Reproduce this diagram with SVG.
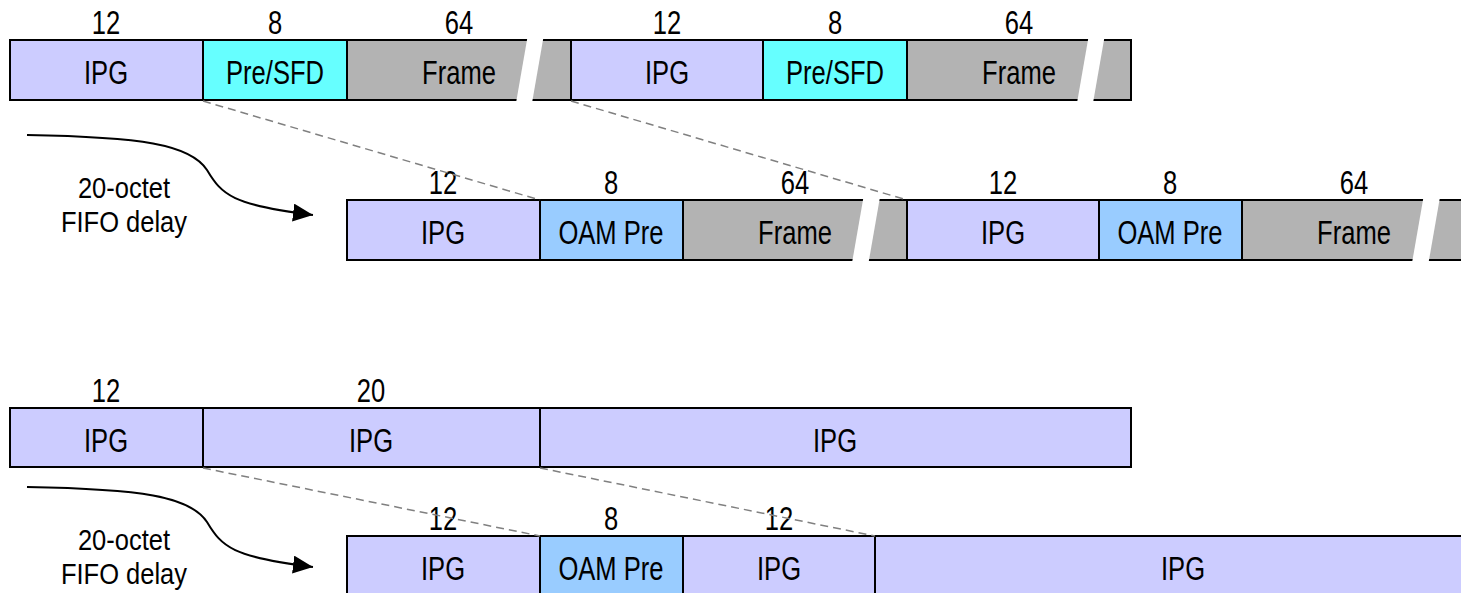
<svg xmlns="http://www.w3.org/2000/svg" width="1461" height="593" viewBox="0 0 1461 593">
  <defs>
    <style>
      text { font-family: "Liberation Sans", Arial, sans-serif; font-size: 33px; fill: #000; text-anchor: middle; }
      text.note { font-size: 30px; }
      .seg { stroke: #000; stroke-width: 2; }
      .ipg { fill: #CCCCFF; }
      .pre { fill: #66FFFF; }
      .oam { fill: #99CCFF; }
      .frm { fill: #B3B3B3; }
      .gap { fill: #FFFFFF; stroke: none; }
      .map { stroke: #808080; stroke-width: 1.5; stroke-dasharray: 8 5; fill: none; }
      .flow { stroke: #000; stroke-width: 2; fill: none; }
    </style>
    <marker id="arrow" markerUnits="userSpaceOnUse" markerWidth="22" markerHeight="18" refX="20" refY="9" orient="auto">
      <path d="M0,0 L20,9 L0,18 Z" fill="#000"/>
    </marker>
  </defs>
  <rect width="1461" height="593" fill="#FFFFFF"/>

  <!-- Row 1: incoming stream (text is narrowed with a horizontal scale) -->
  <g id="r1-ipg1"><rect class="seg ipg" x="10" y="40" width="193" height="60"/><text transform="translate(106,34) scale(0.775,1)">12</text><text transform="translate(106,84) scale(0.775,1)">IPG</text></g>
  <g id="r1-pre1"><rect class="seg pre" x="203" y="40" width="144" height="60"/><text transform="translate(275,34) scale(0.775,1)">8</text><text transform="translate(275,84) scale(0.775,1)">Pre/SFD</text></g>
  <g id="r1-frame1"><rect class="seg frm" x="347" y="40" width="224" height="60"/><text transform="translate(459,34) scale(0.775,1)">64</text><text transform="translate(459,84) scale(0.775,1)">Frame</text></g>
  <g id="r1-ipg2"><rect class="seg ipg" x="571" y="40" width="192" height="60"/><text transform="translate(667,34) scale(0.775,1)">12</text><text transform="translate(667,84) scale(0.775,1)">IPG</text></g>
  <g id="r1-pre2"><rect class="seg pre" x="763" y="40" width="144" height="60"/><text transform="translate(835,34) scale(0.775,1)">8</text><text transform="translate(835,84) scale(0.775,1)">Pre/SFD</text></g>
  <g id="r1-frame2"><rect class="seg frm" x="907" y="40" width="224" height="60"/><text transform="translate(1019,34) scale(0.775,1)">64</text><text transform="translate(1019,84) scale(0.775,1)">Frame</text></g>
  <!-- break marks in the frames -->
  <polygon class="gap" points="527.5,37 543.5,37 532,103 516,103"/>
  <polygon class="gap" points="1088.5,37 1104.5,37 1093,103 1077,103"/>

  <!-- Row 2: delayed stream with OAM preamble -->
  <g id="r2-ipg1"><rect class="seg ipg" x="347" y="200" width="193" height="60"/><text transform="translate(443,194) scale(0.775,1)">12</text><text transform="translate(443,244) scale(0.775,1)">IPG</text></g>
  <g id="r2-oam1"><rect class="seg oam" x="540" y="200" width="143" height="60"/><text transform="translate(611,194) scale(0.775,1)">8</text><text transform="translate(611,244) scale(0.775,1)">OAM Pre</text></g>
  <g id="r2-frame1"><rect class="seg frm" x="683" y="200" width="224" height="60"/><text transform="translate(795,194) scale(0.775,1)">64</text><text transform="translate(795,244) scale(0.775,1)">Frame</text></g>
  <g id="r2-ipg2"><rect class="seg ipg" x="907" y="200" width="192" height="60"/><text transform="translate(1003,194) scale(0.775,1)">12</text><text transform="translate(1003,244) scale(0.775,1)">IPG</text></g>
  <g id="r2-oam2"><rect class="seg oam" x="1099" y="200" width="143" height="60"/><text transform="translate(1170,194) scale(0.775,1)">8</text><text transform="translate(1170,244) scale(0.775,1)">OAM Pre</text></g>
  <g id="r2-frame2"><rect class="seg frm" x="1242" y="200" width="240" height="60"/><text transform="translate(1354,194) scale(0.775,1)">64</text><text transform="translate(1354,244) scale(0.775,1)">Frame</text></g>
  <polygon class="gap" points="863.5,197 880,197 868.5,263 852,263"/>
  <polygon class="gap" points="1423.5,197 1440,197 1428.5,263 1412,263"/>

  <!-- Row 3: idle stream -->
  <g id="r3-ipg1"><rect class="seg ipg" x="10" y="408" width="193" height="59"/><text transform="translate(106,402) scale(0.775,1)">12</text><text transform="translate(106,452) scale(0.775,1)">IPG</text></g>
  <g id="r3-ipg2"><rect class="seg ipg" x="203" y="408" width="337" height="59"/><text transform="translate(371,402) scale(0.775,1)">20</text><text transform="translate(371,452) scale(0.775,1)">IPG</text></g>
  <g id="r3-ipg3"><rect class="seg ipg" x="540" y="408" width="591" height="59"/><text transform="translate(835,452) scale(0.775,1)">IPG</text></g>

  <!-- Row 4: delayed idle stream with OAM preamble -->
  <g id="r4-ipg1"><rect class="seg ipg" x="347" y="536" width="193" height="70"/><text transform="translate(443,530) scale(0.775,1)">12</text><text transform="translate(443,580) scale(0.775,1)">IPG</text></g>
  <g id="r4-oam"><rect class="seg oam" x="540" y="536" width="143" height="70"/><text transform="translate(611,580) scale(0.775,1)">OAM Pre</text><text transform="translate(611,530) scale(0.775,1)">8</text></g>
  <g id="r4-ipg2"><rect class="seg ipg" x="683" y="536" width="192" height="70"/><text transform="translate(779,530) scale(0.775,1)">12</text><text transform="translate(779,580) scale(0.775,1)">IPG</text></g>
  <g id="r4-ipg3"><rect class="seg ipg" x="875" y="536" width="600" height="70"/><text transform="translate(1183,580) scale(0.775,1)">IPG</text></g>

  <!-- Delay labels -->
  <g id="delay1"><text class="note" transform="translate(124,198) scale(0.85,1)">20-octet</text><text class="note" transform="translate(124,232) scale(0.85,1)">FIFO delay</text></g>
  <g id="delay2"><text class="note" transform="translate(124,550) scale(0.85,1)">20-octet</text><text class="note" transform="translate(124,584) scale(0.85,1)">FIFO delay</text></g>

  <!-- Connectors -->
  <g id="connectors">
    <line class="map" x1="203" y1="101" x2="540" y2="200"/>
    <line class="map" x1="571" y1="101" x2="907" y2="200"/>
    <line class="map" x1="203" y1="468" x2="540" y2="536"/>
    <line class="map" x1="540" y1="468" x2="875" y2="536"/>
    <path class="flow" d="M27,135 C140,137 190,144 207,170 C222,195 232,205 313,215" marker-end="url(#arrow)"/>
    <path class="flow" d="M27,487 C140,489 190,496 207,522 C222,547 232,557 313,567" marker-end="url(#arrow)"/>
  </g>
</svg>
